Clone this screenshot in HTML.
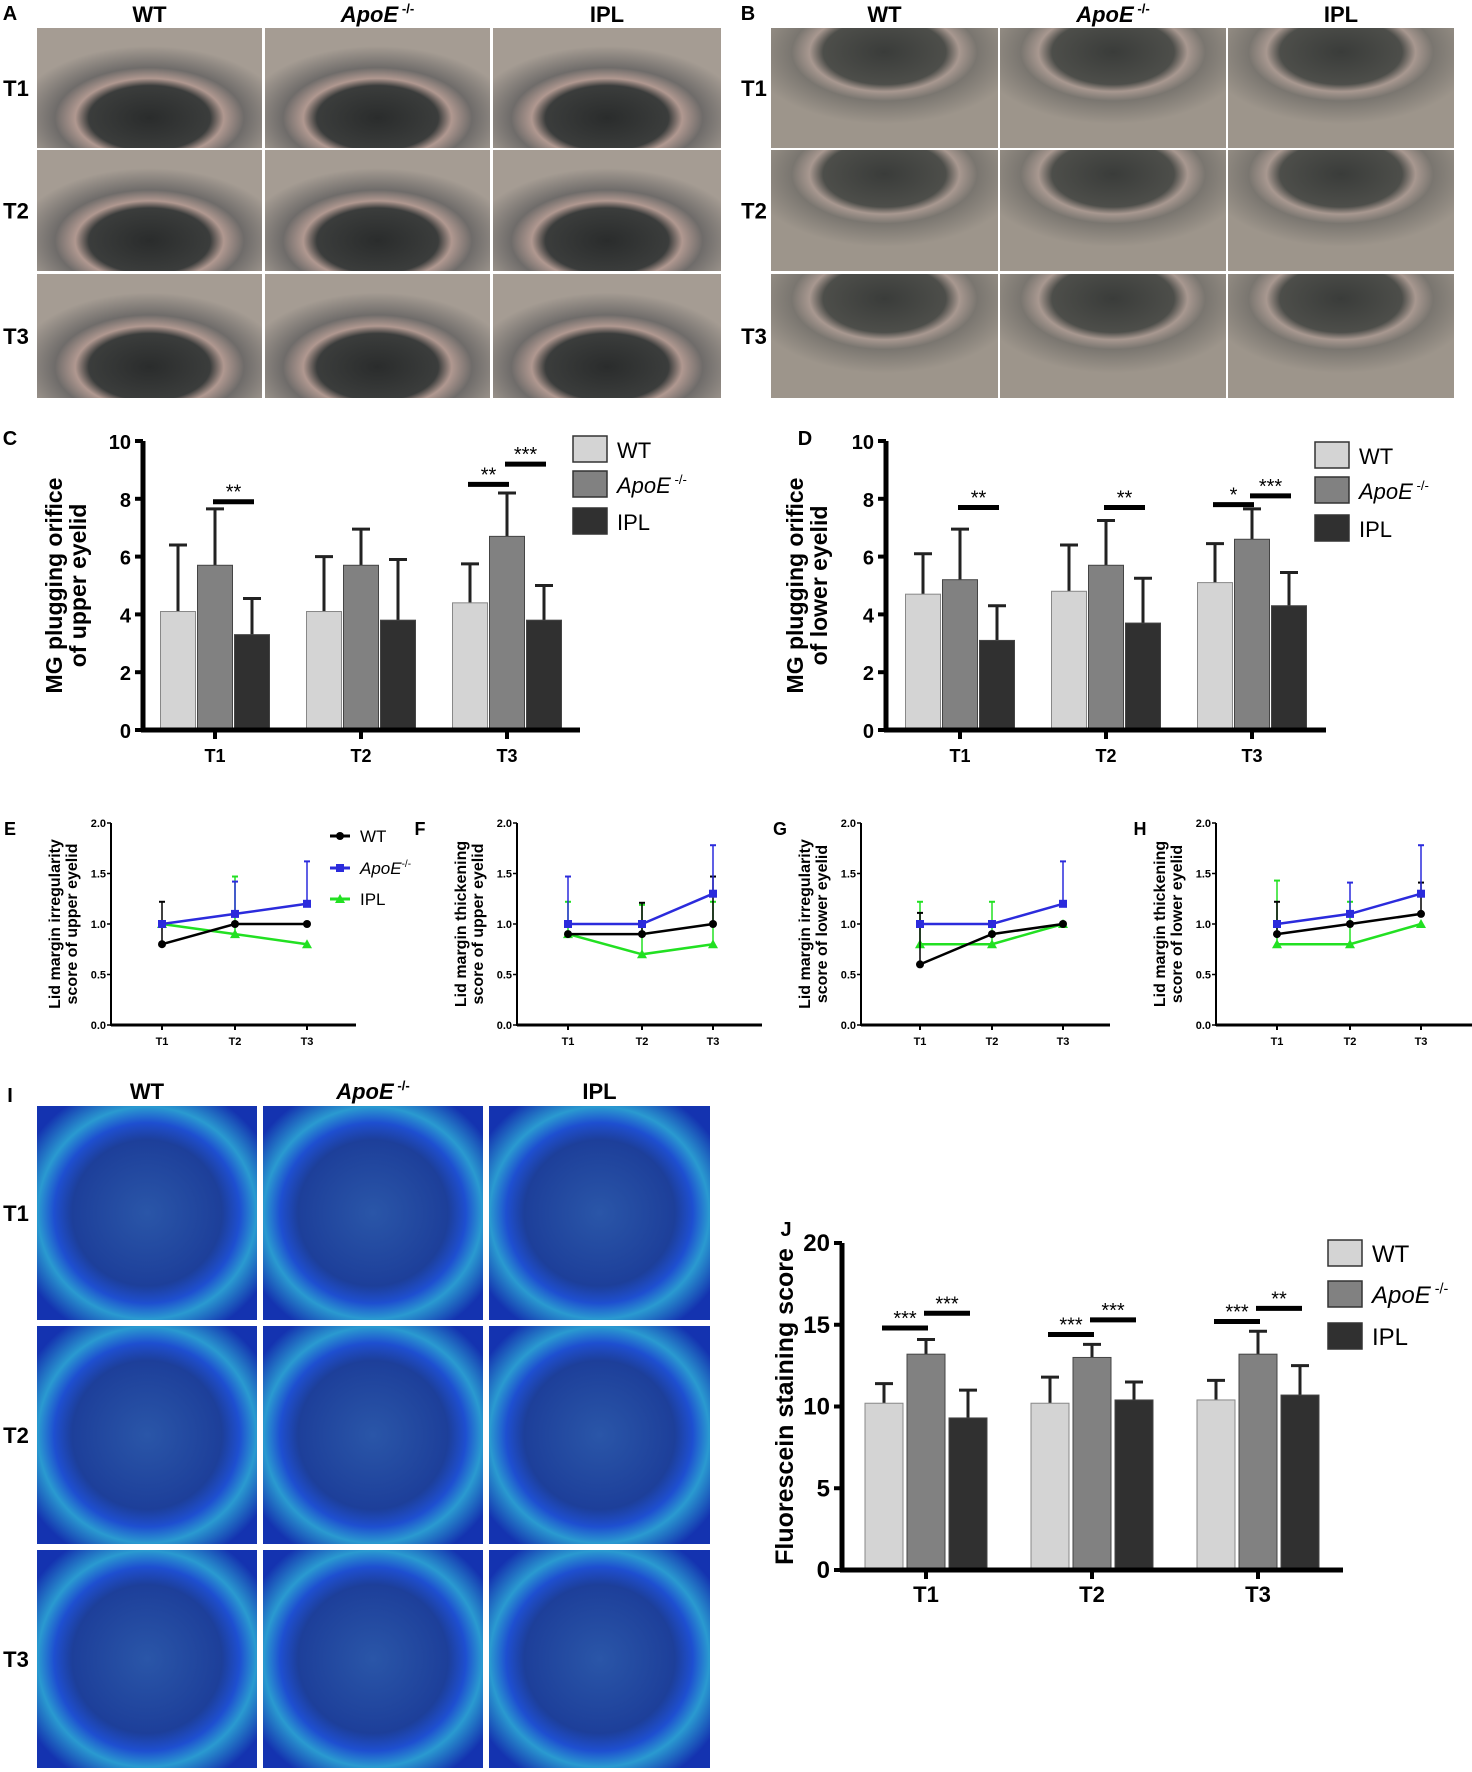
<!DOCTYPE html>
<html><head><meta charset="utf-8"><style>
html,body{margin:0;padding:0;background:#fff}
svg{display:block}
text{font-family:"Liberation Sans",Arial,sans-serif}
</style></head><body>
<svg id="fig" width="1472" height="1772" viewBox="0 0 1472 1772" xmlns="http://www.w3.org/2000/svg">
<defs>
<radialGradient id="eyeUp" cx="0.5" cy="0.75" r="0.6"><stop offset="0" stop-color="#2a2c2c"/><stop offset="0.45" stop-color="#3b3d3c"/><stop offset="0.55" stop-color="#b09890"/><stop offset="0.7" stop-color="#6f6c6a"/><stop offset="1" stop-color="#a59c93"/></radialGradient>
<radialGradient id="eyeLow" cx="0.5" cy="0.2" r="0.6"><stop offset="0" stop-color="#3a3c3a"/><stop offset="0.45" stop-color="#4d4e4a"/><stop offset="0.55" stop-color="#a89890"/><stop offset="0.68" stop-color="#7a7670"/><stop offset="1" stop-color="#9d958b"/></radialGradient>
<radialGradient id="fluo" cx="0.5" cy="0.5" r="0.62"><stop offset="0" stop-color="#2a56a8"/><stop offset="0.55" stop-color="#1d3f9a"/><stop offset="0.68" stop-color="#1e4fd0"/><stop offset="0.8" stop-color="#2a9ad0"/><stop offset="1" stop-color="#1433b0"/></radialGradient>
</defs>
<g id="photos"></g>
<g id="charts"></g>
</svg>
<script>
// ---------- data ----------
const groups = ["T1","T2","T3"];
const seriesNames = ["WT","ApoE","IPL"];
const cWT = [4.1,4.1,4.4], cWTerr = [6.4,6.0,5.75];
const cApo = [5.7,5.7,6.7], cApoErr = [7.65,6.95,8.2];
const cIPL = [3.3,3.8,3.8], cIPLerr = [4.55,5.9,5.0];
const cTicks = [0,2,4,6,8,10];
const dWT = [4.7,4.8,5.1], dWTerr = [6.1,6.4,6.45];
const dApo = [5.2,5.7,6.6], dApoErr = [6.95,7.25,7.65];
const dIPL = [3.1,3.7,4.3], dIPLerr = [4.3,5.25,5.45];
const jWT = [10.2,10.2,10.4], jWTerr = [11.4,11.8,11.6];
const jApo = [13.2,13.0,13.2], jApoErr = [14.1,13.8,14.6];
const jIPL = [9.3,10.4,10.7], jIPLerr = [11.0,11.5,12.5];
const jTicks = [0,5,10,15,20];
const lineTicks = ["0.0","0.5","1.0","1.5","2.0"];
const eWT=[0.8,1.0,1.0], eWTerr=[1.22,null,null];
const eApo=[1.0,1.1,1.2], eApoErr=[null,1.42,1.62];
const eIPL=[1.0,0.9,0.8], eIPLerr=[null,1.47,null];
const fWT=[0.9,0.9,1.0], fWTerr=[null,1.21,1.47];
const fApo=[1.0,1.0,1.3], fApoErr=[1.47,null,1.78];
const fIPL=[0.9,0.7,0.8], fIPLerr=[1.22,1.19,1.22];
const gWT=[0.6,0.9,1.0], gWTerr=[1.11,null,null];
const gApo=[1.0,1.0,1.2], gApoErr=[null,null,1.62];
const gIPL=[0.8,0.8,1.0], gIPLerr=[1.22,1.22,null];
const hWT=[0.9,1.0,1.1], hWTerr=[1.22,null,1.41];
const hApo=[1.0,1.1,1.3], hApoErr=[null,1.41,1.78];
const hIPL=[0.8,0.8,1.0], hIPLerr=[1.43,1.22,null];
// significance: [group, fromSeries, toSeries, value, label]
const cSig = [[0,1,2,7.9,"**"],[2,0,1,8.5,"**"],[2,1,2,9.2,"***"]];
const dSig = [[0,1,2,7.7,"**"],[1,1,2,7.7,"**"],[2,0,1,7.8,"*"],[2,1,2,8.1,"***"]];
const jSig = [[0,0,1,14.8,"***"],[0,1,2,15.7,"***"],[1,0,1,14.4,"***"],[1,1,2,15.3,"***"],[2,0,1,15.2,"***"],[2,1,2,16.0,"**"]];

const NS="http://www.w3.org/2000/svg";
function mk(tag,attrs,parent,txt){const e=document.createElementNS(NS,tag);for(const k in attrs)e.setAttribute(k,attrs[k]);if(txt!=null)e.textContent=txt;parent.appendChild(e);return e;}
const photos=document.getElementById('photos');
const charts=document.getElementById('charts');

function label(x,y,t,size,name,italicSup){
  const e=mk('text',{x:x,y:y,'font-size':size,'font-weight':'bold','text-anchor':'middle'},charts);
  
  
  if(italicSup){mk('tspan',{'font-style':'italic'},e,'ApoE');mk('tspan',{'font-size':size*0.6,dy:-size*0.4},e,' -/-');}
  else e.textContent=t;
  return e;
}
// ---------- photo grids ----------
function grid(cols,rows,fill,name){
  rows.forEach((r,ri)=>cols.forEach((c,ci)=>{
    const g=mk('g',{},photos);
    
    
    mk('rect',{x:c[0],y:r[0],width:c[1]-c[0],height:r[1]-r[0],fill:fill},g);
  }));
}
const aCols=[[37,262],[265,490],[493,721]], abRows=[[28,148],[150,271],[274,398]];
const bCols=[[771,998],[1000,1226],[1228,1454]];
const iCols=[[37,257],[263,483],[489,710]], iRows=[[1106,1320],[1326,1544],[1550,1768]];
grid(aCols,abRows,'url(#eyeUp)','panel-a');
grid(bCols,abRows,'url(#eyeLow)','panel-b');
grid(iCols,iRows,'url(#fluo)','panel-i');
function headers(cols,y,prefix){
  label((cols[0][0]+cols[0][1])/2,y,'WT',22,prefix+'-header-wt');
  label((cols[1][0]+cols[1][1])/2,y,'',22,prefix+'-header-apoe',true);
  label((cols[2][0]+cols[2][1])/2,y,'IPL',22,prefix+'-header-ipl');
}
function rowLabels(x,rows,prefix){rows.forEach((r,i)=>label(x,(r[0]+r[1])/2+8,groups[i],22,prefix+'-row-'+groups[i]));}
headers(aCols,22,'panel-a');rowLabels(16,abRows,'panel-a');
headers(bCols,22,'panel-b');rowLabels(754,abRows,'panel-b');
headers(iCols,1099,'panel-i');rowLabels(16,iRows,'panel-i');
label(10,20,'A',20,'panel-a-label');label(748,20,'B',20,'panel-b-label');
label(10,445,'C',20,'panel-c-label');label(805,445,'D',20,'panel-d-label');
label(10,835,'E',18,'panel-e-label');label(420,835,'F',18,'panel-f-label');
label(780,835,'G',18,'panel-g-label');label(1140,835,'H',18,'panel-h-label');
label(10,1102,'I',20,'panel-i-label');label(786,1236,'J',20,'panel-j-label');

// ---------- bar chart ----------
const barFills=['#d4d4d4','#818181','#303030'];
function barChart(o){
  const g=mk('g',{},charts);
  
  
  const y=v=>o.y0-(v-o.min)/(o.max-o.min)*(o.y0-o.yTop);
  const bx=(gi,si)=>o.tx[gi]+(si-1)*o.step;
  const vals=[o.s[0],o.s[1],o.s[2]], errs=[o.e[0],o.e[1],o.e[2]];
  vals.forEach((arr,si)=>arr.forEach((v,gi)=>{
    const cx=bx(gi,si);
    const eb=mk('line',{x1:cx,x2:cx,y1:y(v),y2:y(errs[si][gi]),stroke:'#222','stroke-width':3},g);
    
    
    mk('line',{x1:cx-9,x2:cx+9,y1:y(errs[si][gi]),y2:y(errs[si][gi]),stroke:'#222','stroke-width':3},g);
    const r=mk('rect',{x:cx-o.bw/2,y:y(v),width:o.bw,height:o.y0-y(v),fill:barFills[si],stroke:si==0?'#888':'#444','stroke-width':1},g);
    
    
  }));
  o.sig.forEach(sg=>{
    const x1=bx(sg[0],sg[1]),x2=bx(sg[0],sg[2]);
    const l=mk('line',{x1:x1-2,x2:x2+2,y1:y(sg[3]),y2:y(sg[3]),stroke:'#000','stroke-width':5},g);
    
    
    mk('text',{x:(x1+x2)/2,y:y(sg[3])-3,'font-size':20,'text-anchor':'middle'},g,sg[4]);
  });
  mk('line',{x1:o.ax,x2:o.ax,y1:o.yTop,y2:o.y0+2,stroke:'#000','stroke-width':5},g);
  mk('line',{x1:o.ax-2,x2:o.xEnd,y1:o.y0,y2:o.y0,stroke:'#000','stroke-width':5},g);
  o.ticks.forEach(t=>{
    mk('line',{x1:o.ax-8,x2:o.ax,y1:y(t),y2:y(t),stroke:'#000','stroke-width':4},g);
    const tl=mk('text',{x:o.ax-12,y:y(t)+8,'font-size':o.tf,'font-weight':'bold','text-anchor':'end'},g,String(t));
    
    
  });
  groups.forEach((c,i)=>{
    mk('line',{x1:o.tx[i],x2:o.tx[i],y1:o.y0,y2:o.y0+9,stroke:'#000','stroke-width':4},g);
    const tl=mk('text',{x:o.tx[i],y:o.y0+32,'font-size':o.tf-2,'font-weight':'bold','text-anchor':'middle'},g,c);
    
    
  });
  const tt=mk('text',{transform:`translate(${o.titleX},${(o.yTop+o.y0)/2}) rotate(-90)`,'font-size':o.titleF,'font-weight':'bold','text-anchor':'middle'},g);
  
  
  o.title.forEach((ln,i)=>mk('tspan',{x:0,dy:i==0?(o.title.length>1?-2:0):o.titleF*1.05},tt,ln));
  o.legY.forEach((ly,i)=>{
    const lg=mk('g',{},g);
    
    
    mk('rect',{x:o.legX,y:ly-13,width:34,height:26,fill:barFills[i],stroke:'#333','stroke-width':1.5},lg);
    const t=mk('text',{x:o.legX+44,y:ly+9,'font-size':o.legF},lg);
    if(i==1){mk('tspan',{'font-style':'italic'},t,'ApoE');mk('tspan',{'font-size':o.legF*0.6,dy:-o.legF*0.4},t,' -/-');}
    else t.textContent=seriesNames[i];
  });
}
barChart({name:'panel-c-chart',ax:143,y0:730,yTop:441,min:0,max:10,xEnd:580,tx:[215,361,507],bw:35,step:37,
  s:[cWT,cApo,cIPL],e:[cWTerr,cApoErr,cIPLerr],sig:cSig,ticks:cTicks,tf:20,titleX:64,titleF:23,
  title:['MG plugging orifice','of upper eyelid'],legX:573,legY:[449,484,521],legF:22});
barChart({name:'panel-d-chart',ax:886,y0:730,yTop:441,min:0,max:10,xEnd:1326,tx:[960,1106,1252],bw:35,step:37,
  s:[dWT,dApo,dIPL],e:[dWTerr,dApoErr,dIPLerr],sig:dSig,ticks:cTicks,tf:20,titleX:805,titleF:23,
  title:['MG plugging orifice','of lower eyelid'],legX:1315,legY:[455,490,528],legF:22});
barChart({name:'panel-j-chart',ax:842,y0:1570,yTop:1243,min:0,max:20,xEnd:1343,tx:[926,1092,1258],bw:38,step:42,
  s:[jWT,jApo,jIPL],e:[jWTerr,jApoErr,jIPLerr],sig:jSig,ticks:jTicks,tf:24,titleX:793,titleF:25,
  title:['Fluorescein staining score'],legX:1328,legY:[1253,1294,1336],legF:24});

// ---------- line charts ----------
const lineColors=['#000','#2b2bdc','#22e022'];
function lineChart(o){
  const g=mk('g',{},charts);
  
  
  const y=v=>o.y0-v/2*(o.y0-o.yTop);
  const vals=[o.s[0],o.s[1],o.s[2]],errs=[o.e[0],o.e[1],o.e[2]];
  [2,0,1].forEach(si=>{
    vals[si].forEach((v,gi)=>{
      const t=errs[si][gi]; if(t==null)return;
      mk('line',{x1:o.tx[gi],x2:o.tx[gi],y1:y(v),y2:y(t),stroke:lineColors[si],'stroke-width':1.5},g);
      mk('line',{x1:o.tx[gi]-3,x2:o.tx[gi]+3,y1:y(t),y2:y(t),stroke:lineColors[si],'stroke-width':2},g);
    });
    const pts=vals[si].map((v,gi)=>o.tx[gi]+','+y(v)).join(' ');
    const pl=mk('polyline',{points:pts,fill:'none',stroke:lineColors[si],'stroke-width':2.5},g);
    
    
    vals[si].forEach((v,gi)=>{
      const cx=o.tx[gi],cy=y(v);
      let m;
      if(si==0)m=mk('circle',{cx:cx,cy:cy,r:4,fill:'#000'},g);
      else if(si==1)m=mk('rect',{x:cx-4,y:cy-4,width:8,height:8,fill:lineColors[1]},g);
      else m=mk('polygon',{points:`${cx},${cy-5} ${cx-5},${cy+4} ${cx+5},${cy+4}`,fill:lineColors[2]},g);
      
      
    });
  });
  mk('line',{x1:o.ax,x2:o.ax,y1:o.yTop,y2:o.y0+1,stroke:'#000','stroke-width':2},g);
  mk('line',{x1:o.ax,x2:o.xEnd,y1:o.y0,y2:o.y0,stroke:'#000','stroke-width':3},g);
  lineTicks.forEach((t,i)=>{
    const yy=y(i*0.5);
    mk('line',{x1:o.ax-4,x2:o.ax,y1:yy,y2:yy,stroke:'#000','stroke-width':1.5},g);
    mk('text',{x:o.ax-5,y:yy+4,'font-size':11,'font-weight':'bold','text-anchor':'end'},g,t);
  });
  groups.forEach((c,i)=>{
    mk('line',{x1:o.tx[i],x2:o.tx[i],y1:o.y0,y2:o.y0+5,stroke:'#000','stroke-width':2},g);
    mk('text',{x:o.tx[i],y:o.y0+20,'font-size':11,'font-weight':'bold','text-anchor':'middle'},g,c);
  });
  const tt=mk('text',{transform:`translate(${o.titleX},${(o.yTop+o.y0)/2}) rotate(-90)`,'font-size':16,'font-weight':'bold','text-anchor':'middle'},g);
  
  
  o.title.forEach((ln,i)=>mk('tspan',{x:0,dy:i==0?-2:17},tt,ln));
}
lineChart({name:'panel-e-chart',ax:111,y0:1025,yTop:823,xEnd:356,tx:[162,235,307],s:[eWT,eApo,eIPL],e:[eWTerr,eApoErr,eIPLerr],titleX:62,title:['Lid margin irregularity','score of upper eyelid']});
lineChart({name:'panel-f-chart',ax:517,y0:1025,yTop:823,xEnd:762,tx:[568,642,713],s:[fWT,fApo,fIPL],e:[fWTerr,fApoErr,fIPLerr],titleX:468,title:['Lid margin thickening','score of upper eyelid']});
lineChart({name:'panel-g-chart',ax:861,y0:1025,yTop:823,xEnd:1110,tx:[920,992,1063],s:[gWT,gApo,gIPL],e:[gWTerr,gApoErr,gIPLerr],titleX:812,title:['Lid margin irregularity','score of lower eyelid']});
lineChart({name:'panel-h-chart',ax:1216,y0:1025,yTop:823,xEnd:1472,tx:[1277,1350,1421],s:[hWT,hApo,hIPL],e:[hWTerr,hApoErr,hIPLerr],titleX:1167,title:['Lid margin thickening','score of lower eyelid']});
// legend for E
const legYs=[836,868,899];
legYs.forEach((ly,i)=>{
  const lg=mk('g',{},charts);
  
  
  mk('line',{x1:330,x2:350,y1:ly,y2:ly,stroke:lineColors[i],'stroke-width':3},lg);
  if(i==0)mk('circle',{cx:340,cy:ly,r:4,fill:'#000'},lg);
  else if(i==1)mk('rect',{x:336,y:ly-4,width:8,height:8,fill:lineColors[1]},lg);
  else mk('polygon',{points:`340,${ly-5} 335,${ly+4} 345,${ly+4}`,fill:lineColors[2]},lg);
  const t=mk('text',{x:360,y:ly+6,'font-size':17},lg);
  if(i==1){mk('tspan',{'font-style':'italic'},t,'ApoE');mk('tspan',{'font-size':10,dy:-7},t,'-/-');}
  else t.textContent=seriesNames[i];
});
</script>
</body></html>
